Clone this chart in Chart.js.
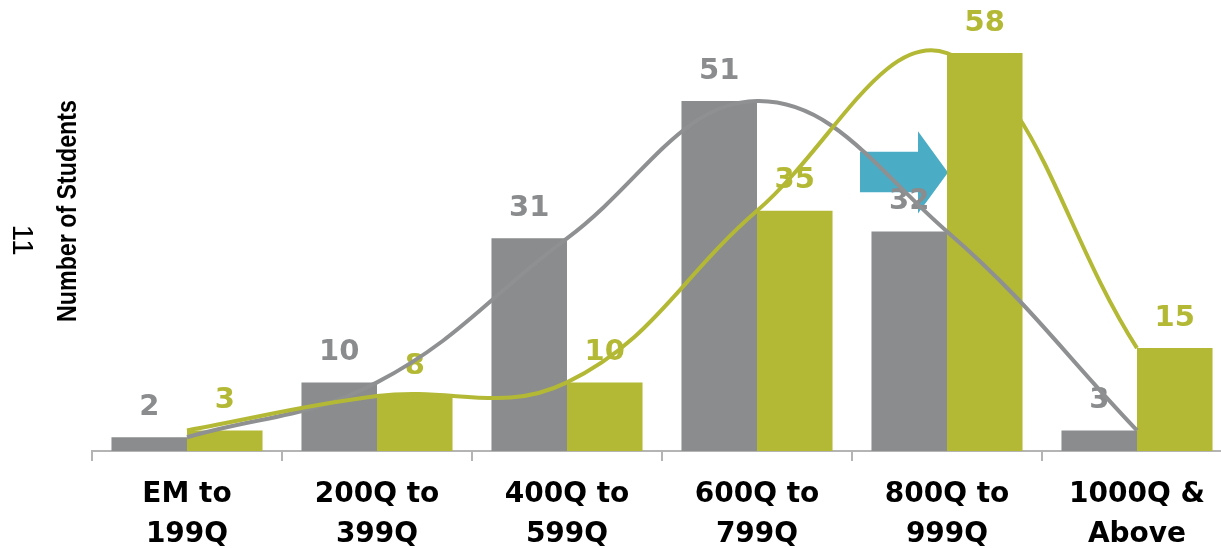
<!DOCTYPE html>
<html>
<head>
<meta charset="utf-8">
<script src="https://cdn.jsdelivr.net/npm/chart.js@4/dist/chart.umd.min.js"></script>
<style>
  html, body { margin: 0; padding: 0; background: #fff; overflow: hidden; }
  #wrap { position: absolute; left: 0; top: 0; width: 1240px; height: 548px; }
</style>
</head>
<body>
<div id="wrap"><canvas id="studentsChart"></canvas></div>
<script>
// categories and values
const categories = [
  ['EM to', '199Q'],
  ['200Q to', '399Q'],
  ['400Q to', '599Q'],
  ['600Q to', '799Q'],
  ['800Q to', '999Q'],
  ['1000Q &', 'Above']
];
const beforeValues = [2, 10, 31, 51, 32, 3];
const afterValues = [3, 8, 10, 35, 58, 15];

const GRAY = '#8a8c8d';
const GREEN = '#b3b935';
const BLUE = '#4bacc6';

// bar value labels, drawn right after each bar set (under the curves)
const barLabels = {
  id: 'barLabels',
  afterDatasetDraw(chart, args) {
    const ds = chart.data.datasets[args.index];
    if (ds.type !== 'bar') return;
    const ctx = chart.ctx;
    ctx.save();
    ctx.font = 'bold 29px "DejaVu Sans"';
    ctx.fillStyle = ds.backgroundColor;
    ctx.textAlign = 'center';
    ctx.textBaseline = 'middle';
    args.meta.data.forEach((bar, i) => {
      ctx.fillText(String(ds.data[i]), bar.x, bar.y - 30);
    });
    ctx.restore();
  }
};

// block arrow behind the bars, pointing at the 800Q-999Q green bar
const shiftArrow = {
  id: 'shiftArrow',
  beforeDatasetsDraw(chart) {
    const x = chart.scales.x, y = chart.scales.y;
    const cx = x.getPixelForValue(4);
    const ctx = chart.ctx;
    ctx.save();
    ctx.fillStyle = BLUE;
    ctx.beginPath();
    ctx.moveTo(cx - 87, y.getPixelForValue(43.6));
    ctx.lineTo(cx - 29, y.getPixelForValue(43.6));
    ctx.lineTo(cx - 29, y.getPixelForValue(46.6));
    ctx.lineTo(cx + 1, y.getPixelForValue(40.6));
    ctx.lineTo(cx - 29, y.getPixelForValue(34.6));
    ctx.lineTo(cx - 29, y.getPixelForValue(37.7));
    ctx.lineTo(cx - 87, y.getPixelForValue(37.7));
    ctx.closePath();
    ctx.fill();
    ctx.restore();
  }
};

// rotated side texts
const sideTexts = {
  id: 'sideTexts',
  afterDraw(chart) {
    const ctx = chart.ctx;
    ctx.save();
    ctx.fillStyle = '#000';
    ctx.textAlign = 'center';
    ctx.textBaseline = 'middle';

    ctx.save();
    ctx.translate(69, 211);
    ctx.rotate(-Math.PI / 2);
    ctx.scale(0.86, 1); // narrow look of the original title
    ctx.font = 'bold 27px "Liberation Sans"';
    ctx.fillText('Number of Students', 0, 0);
    ctx.restore();

    ctx.save();
    ctx.translate(21, 240);
    ctx.rotate(Math.PI / 2);
    ctx.font = '30px "Liberation Sans"';
    ctx.fillText('11', 0, 0);
    ctx.restore();

    ctx.restore();
  }
};

const ctx = document.getElementById('studentsChart').getContext('2d');
new Chart(ctx, {
  data: {
    labels: categories,
    datasets: [
      {
        type: 'line',
        label: 'After curve',
        data: afterValues,
        borderColor: GREEN,
        borderWidth: 4,
        tension: 0.4,
        pointRadius: 0,
        fill: false,
        order: 0
      },
      {
        type: 'line',
        label: 'Before curve',
        data: beforeValues,
        borderColor: '#8e9091',
        borderWidth: 4,
        tension: 0.4,
        pointRadius: 0,
        fill: false,
        order: 1
      },
      {
        type: 'bar',
        label: 'Before',
        data: beforeValues,
        backgroundColor: GRAY,
        categoryPercentage: 0.795,
        barPercentage: 1.0,
        order: 2
      },
      {
        type: 'bar',
        label: 'After',
        data: afterValues,
        backgroundColor: GREEN,
        categoryPercentage: 0.795,
        barPercentage: 1.0,
        order: 2
      }
    ]
  },
  options: {
    responsive: true,
    maintainAspectRatio: false,
    animation: false,
    layout: { padding: { top: 5, right: 8, left: 0, bottom: 0 } },
    plugins: {
      legend: { display: false },
      tooltip: { enabled: false }
    },
    scales: {
      x: {
        grid: {
          display: true,
          drawOnChartArea: false,
          offset: true,
          tickLength: 10,
          color: '#b4b4b4',
          lineWidth: 2
        },
        border: { color: '#b4b4b4', width: 2 },
        ticks: {
          color: '#000',
          font: { family: '"DejaVu Sans"', weight: 'bold', size: 28, lineHeight: 1.43 },
          padding: 14,
          maxRotation: 0,
          autoSkip: false
        },
        afterFit(scale) { scale.height = 97; }
      },
      y: {
        min: 0,
        max: 65,
        grid: { display: false },
        border: { display: false },
        ticks: { display: false },
        afterFit(scale) { scale.width = 92; }
      }
    }
  },
  plugins: [shiftArrow, barLabels, sideTexts]
});
</script>
</body>
</html>
